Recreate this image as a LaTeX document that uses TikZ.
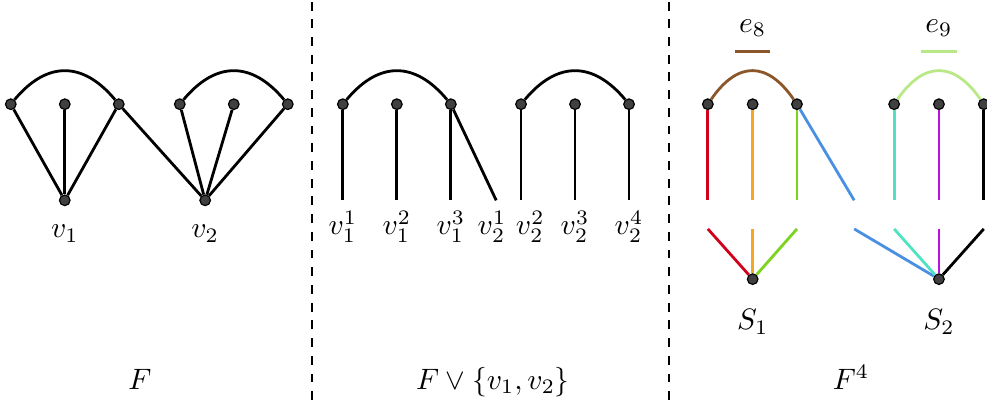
\documentclass[tikz,border=0pt]{standalone}
\usepackage{amsmath}
\usepackage{amssymb}
\usepackage{tikz}
\usetikzlibrary{
  positioning,
  calc
}
\definecolor{CutRed}{RGB}{208,2,27}
\definecolor{CutOrange}{RGB}{245,166,35}
\definecolor{CutGreen}{RGB}{126,211,33}
\definecolor{CutBlue}{RGB}{74,144,226}
\definecolor{CutCyan}{RGB}{80,227,194}
\definecolor{CutPurple}{RGB}{189,16,224}
\definecolor{HyperBrown}{RGB}{139,87,42}
\definecolor{HyperLime}{RGB}{184,233,134}
\tikzset{
  vertex/.style={circle,draw=black,fill=black!75,inner sep=0pt,minimum size=3.6pt},
  graphedge/.style={line width=0.95pt,draw=black},
  hyperarc/.style={line width=0.95pt},
  separator/.style={dashed,line width=0.95pt,draw=black},
  caption/.style={anchor=base}
}

\begin{document}
\begin{tikzpicture}[x=0.643cm,y=0.643cm]
\useasboundingbox (0,0) rectangle (18.28,7.41);
% separators
\coordinate (s1b) at (5.78,0);   \coordinate (s1t) at (5.78,7.41);
\coordinate (s2b) at (12.39,0);  \coordinate (s2t) at (12.39,7.41);
\draw[separator] (s1b) -- (s1t);
\draw[separator] (s2b) -- (s2t);

% the forest F
\node[vertex] (a1) at (0.2,5.48) {};
\node[vertex] (a2) at (1.2,5.48) {};
\node[vertex] (a3) at (2.2,5.48) {};
\node[vertex] (b1) at (3.33,5.48) {};
\node[vertex] (b2) at (4.33,5.48) {};
\node[vertex] (b3) at (5.33,5.48) {};
\node[vertex] (v1) at (1.2,3.70) {};
\node[vertex] (v2) at (3.8,3.70) {};
\node[below=1mm of v1] (v1lab) {$v_1$};
\node[below=1mm of v2] (v2lab) {$v_2$};
\draw[hyperarc] (a1) .. controls +(0.667,0.8) and +(-0.667,0.8) .. (a3);
\draw[hyperarc] (b1) .. controls +(0.667,0.8) and +(-0.667,0.8) .. (b3);
\draw[graphedge] (a1) -- (v1);
\draw[graphedge] (a2) -- (v1);
\draw[graphedge] (a3) -- (v1);
\draw[graphedge] (a3) -- (v2);
\draw[graphedge] (b1) -- (v2);
\draw[graphedge] (b2) -- (v2);
\draw[graphedge] (b3) -- (v2);
\node[caption] (capF) at (2.59,0.2) {$F$};

% F split at v1, v2
\node[vertex] (m1) at (6.35,5.48) {};
\node[vertex] (m2) at (7.35,5.48) {};
\node[vertex] (m3) at (8.35,5.48) {};
\node[vertex] (m4) at (9.65,5.48) {};
\node[vertex] (m5) at (10.65,5.48) {};
\node[vertex] (m6) at (11.65,5.48) {};
\coordinate (e11) at (6.35,3.70);
\coordinate (e12) at (7.35,3.70);
\coordinate (e13) at (8.35,3.70);
\coordinate (e21) at (9.19,3.70);
\coordinate (e22) at (9.65,3.70);
\coordinate (e23) at (10.65,3.70);
\coordinate (e24) at (11.65,3.70);
\draw[hyperarc] (m1) .. controls +(0.667,0.8) and +(-0.667,0.8) .. (m3);
\draw[hyperarc] (m4) .. controls +(0.667,0.8) and +(-0.667,0.8) .. (m6);
\draw[graphedge] (m1) -- (e11);
\draw[graphedge] (m2) -- (e12);
\draw[graphedge] (m3) -- (e13);
\draw[graphedge] (m3) -- (e21);
\draw[graphedge] (m4) -- (e22);
\draw[graphedge] (m5) -- (e23);
\draw[graphedge] (m6) -- (e24);
\node[below=0mm of e11] (l11) {$v_1^1$};
\node[below=0mm of e12] (l12) {$v_1^2$};
\node[below=0mm of e13] (l13) {$v_1^3$};
\node[below=0mm of e21,xshift=-0.5mm] (l21) {$v_2^1$};
\node[below=0mm of e22,xshift=1.1mm] (l22) {$v_2^2$};
\node[below=0mm of e23] (l23) {$v_2^3$};
\node[below=0mm of e24] (l24) {$v_2^4$};
\node[caption] (capFv) at (9.13,0.2) {$F\vee\{v_1,v_2\}$};

% F^4 with coloured cut edges
\node[vertex] (r1) at (13.11,5.48) {};
\node[vertex] (r2) at (13.94,5.48) {};
\node[vertex] (r3) at (14.76,5.48) {};
\node[vertex] (r4) at (16.56,5.48) {};
\node[vertex] (r5) at (17.39,5.48) {};
\node[vertex] (r6) at (18.22,5.48) {};
\node[vertex] (S1) at (13.94,2.24) {};
\node[vertex] (S2) at (17.39,2.24) {};
\node[below=1.7mm of S1] (S1lab) {$S_1$};
\node[below=1.7mm of S2] (S2lab) {$S_2$};
\coordinate (c1) at (13.11,3.70); \coordinate (d1) at (13.11,3.17);
\coordinate (c2) at (13.94,3.70); \coordinate (d2) at (13.94,3.17);
\coordinate (c3) at (14.76,3.70); \coordinate (d3) at (14.76,3.17);
\coordinate (c4) at (15.82,3.70); \coordinate (d4) at (15.82,3.17);
\coordinate (c5) at (16.56,3.70); \coordinate (d5) at (16.56,3.17);
\coordinate (c6) at (17.39,3.70); \coordinate (d6) at (17.39,3.17);
\coordinate (c7) at (18.22,3.70); \coordinate (d7) at (18.22,3.17);
\draw[hyperarc,draw=HyperBrown] (r1) .. controls +(0.55,0.8) and +(-0.55,0.8) .. (r3);
\draw[hyperarc,draw=HyperLime] (r4) .. controls +(0.55,0.8) and +(-0.55,0.8) .. (r6);
\draw[graphedge,draw=CutRed] (r1) -- (c1);
\draw[graphedge,draw=CutRed] (d1) -- (S1);
\draw[graphedge,draw=CutOrange] (r2) -- (c2);
\draw[graphedge,draw=CutOrange] (d2) -- (S1);
\draw[graphedge,draw=CutGreen] (r3) -- (c3);
\draw[graphedge,draw=CutGreen] (d3) -- (S1);
\draw[graphedge,draw=CutBlue] (r3) -- (c4);
\draw[graphedge,draw=CutBlue] (d4) -- (S2);
\draw[graphedge,draw=CutCyan] (r4) -- (c5);
\draw[graphedge,draw=CutCyan] (d5) -- (S2);
\draw[graphedge,draw=CutPurple] (r5) -- (c6);
\draw[graphedge,draw=CutPurple] (d6) -- (S2);
\draw[graphedge] (r6) -- (c7);
\draw[graphedge] (d7) -- (S2);
% legend of the two hyperedges
\node[caption] (e8lab) at (13.94,6.81) {$e_8$};
\node[caption] (e9lab) at (17.39,6.81) {$e_9$};
\coordinate (e8l) at (13.61,6.46); \coordinate (e8r) at (14.26,6.46);
\coordinate (e9l) at (17.06,6.46); \coordinate (e9r) at (17.72,6.46);
\draw[hyperarc,draw=HyperBrown] (e8l) -- (e8r);
\draw[hyperarc,draw=HyperLime] (e9l) -- (e9r);
\node[caption] (capF4) at (15.76,0.2) {$F^4$};
\end{tikzpicture}
\end{document}
